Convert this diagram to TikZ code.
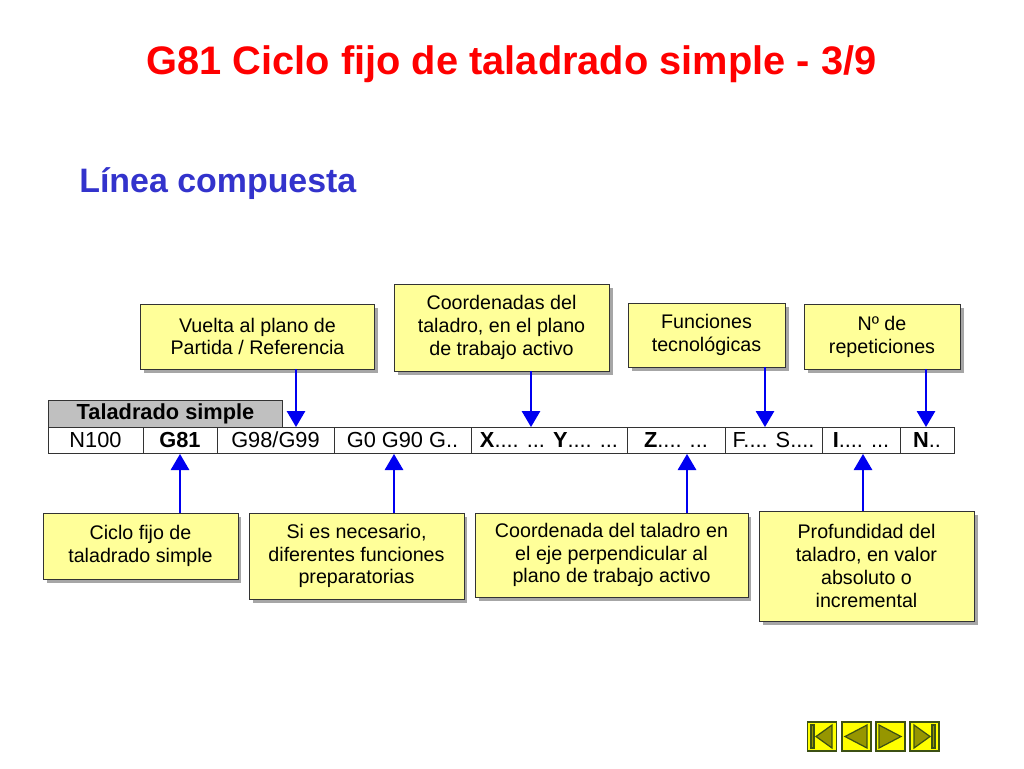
\documentclass[tikz,border=0pt]{standalone}
\usepackage{fontspec}
\setmainfont{Liberation Sans}
\usetikzlibrary{positioning}
\usetikzlibrary{arrows.meta}
\usetikzlibrary{shadows}
\definecolor{notefill}{RGB}{255,255,153}
\definecolor{headfill}{RGB}{192,192,192}
\definecolor{linkblue}{RGB}{0,0,240}
\definecolor{subblue}{RGB}{51,51,204}
\definecolor{navfill}{RGB}{255,255,0}
\definecolor{navdark}{RGB}{150,150,0}
\definecolor{navline}{RGB}{60,80,20}
\tikzset{
  notebox/.style={draw=black!80, line width=0.55pt, fill=notefill, align=center, inner sep=0pt, outer sep=0pt,
    font=\fontsize{11.2}{13}\selectfont,
    drop shadow={shadow xshift=2pt, shadow yshift=-2pt, fill=black!35, opacity=1}},
  cellbox/.style={draw=black!80, line width=0.55pt, fill=white, inner sep=0pt, outer sep=0pt, minimum height=0.52cm,
    font=\fontsize{12.4}{14}\selectfont},
  linkarrow/.style={draw=linkblue, line width=0.7pt, -{Triangle[length=0.32cm,width=0.37cm,fill=linkblue]}},
  navbox/.style={draw=navline, line width=1pt, fill=navfill, minimum width=0.58cm, minimum height=0.58cm, inner sep=0pt, outer sep=0pt},
  navmark/.style={draw=navline, line width=0.7pt, fill=navdark}
}
\begin{document}
\begin{tikzpicture}[x=0.02cm,y=-0.02cm]
  \useasboundingbox (0,0) rectangle (1024,768);
  % Titles
  \node[text=red, font=\bfseries\fontsize{22.65}{26}\selectfont] (title) at (511.5,64) {G81 Ciclo fijo de taladrado simple - 3/9};
  \node[text=subblue, font=\bfseries\fontsize{19.3}{23}\selectfont, anchor=west, inner sep=0pt] (subtitle) at (79,184) {Línea compuesta};
  % Block format line
  \node[cellbox, fill=headfill, minimum width=4.7cm, minimum height=0.54cm, font=\bfseries\fontsize{12.4}{14}\selectfont] (head) at (165.5,413.5) {Taladrado simple};
  \node[cellbox, minimum width=1.9cm] (cellN) at (95.5,440) {N100};
  \node[cellbox, minimum width=1.48cm, font=\bfseries\fontsize{12.4}{14}\selectfont] (cellG) at (180,440) {G81};
  \node[cellbox, minimum width=2.34cm] (cellP) at (275.5,440) {G98/G99};
  \node[cellbox, minimum width=2.74cm] (cellF) at (402.5,440) {G0 G90 G..};
  \node[cellbox, minimum width=3.12cm] (cellX) at (549,440) {\textbf{X}.... ... \textbf{Y}.... ...};
  \node[cellbox, minimum width=1.96cm] (cellZ) at (676,440) {\textbf{Z}.... ...};
  \node[cellbox, minimum width=1.94cm] (cellS) at (773.5,440) {F.... S....};
  \node[cellbox, minimum width=1.56cm] (cellI) at (861,440) {\textbf{I}.... ...};
  \node[cellbox, minimum width=1.08cm] (cellR) at (927,440) {\textbf{N}..};
  % Notes above
  \node[notebox, minimum width=4.7cm, minimum height=1.3cm] (vuelta) at (257.5,336.5) {Vuelta al plano de\\Partida / Referencia};
  \node[notebox, minimum width=4.3cm, minimum height=1.74cm] (coord) at (501.5,327.5) {Coordenadas del\\taladro, en el plano\\de trabajo activo};
  \node[notebox, minimum width=3.14cm, minimum height=1.28cm] (func) at (706.5,335) {Funciones\\tecnológicas};
  \node[notebox, minimum width=3.12cm, minimum height=1.3cm] (repet) at (882,336.5) {Nº de\\repeticiones};
  % Notes below
  \node[notebox, minimum width=3.9cm, minimum height=1.32cm] (ciclo) at (140.5,546) {Ciclo fijo de\\taladrado simple};
  \node[notebox, minimum width=4.3cm, minimum height=1.72cm] (prep) at (356.5,556) {Si es necesario,\\diferentes funciones\\preparatorias};
  \node[notebox, minimum width=5.46cm, minimum height=1.68cm] (eje) at (611.5,555) {Coordenada del taladro en\\el eje perpendicular al\\plano de trabajo activo};
  \node[notebox, minimum width=4.3cm, minimum height=2.2cm] (prof) at (866.5,566) {Profundidad del\\taladro, en valor\\absoluto o\\incremental};
  % Arrow tips on the format line
  \coordinate (tipP) at (296,427);
  \coordinate (tipX) at (531,427);
  \coordinate (tipS) at (765,427);
  \coordinate (tipR) at (926,427);
  \coordinate (tipG) at (180,454);
  \coordinate (tipF) at (394,454);
  \coordinate (tipZ) at (687,454);
  \coordinate (tipI) at (863,454);
  \draw[linkarrow] (vuelta.south -| tipP) -- (tipP);
  \draw[linkarrow] (coord.south -| tipX) -- (tipX);
  \draw[linkarrow] (func.south -| tipS) -- (tipS);
  \draw[linkarrow] (repet.south -| tipR) -- (tipR);
  \draw[linkarrow] (ciclo.north -| tipG) -- (tipG);
  \draw[linkarrow] (prep.north -| tipF) -- (tipF);
  \draw[linkarrow] (eje.north -| tipZ) -- (tipZ);
  \draw[linkarrow] (prof.north -| tipI) -- (tipI);
  % Navigation buttons
  \node[navbox] (first) at (822,736.5) {};
  \node[navbox] (back) at (856.5,736.5) {};
  \node[navbox] (next) at (890.5,736.5) {};
  \node[navbox] (last) at (924.5,736.5) {};
  \draw[navmark] (811,725) rectangle (814,748);
  \draw[navmark] (816,736.5) -- (832,725) -- (832,748) -- cycle;
  \draw[navmark] (845,736.5) -- (867,725) -- (867,748) -- cycle;
  \draw[navmark] (901,736.5) -- (879,725) -- (879,748) -- cycle;
  \draw[navmark] (930,736.5) -- (914,725) -- (914,748) -- cycle;
  \draw[navmark] (932,725) rectangle (935,748);
\end{tikzpicture}
\end{document}
